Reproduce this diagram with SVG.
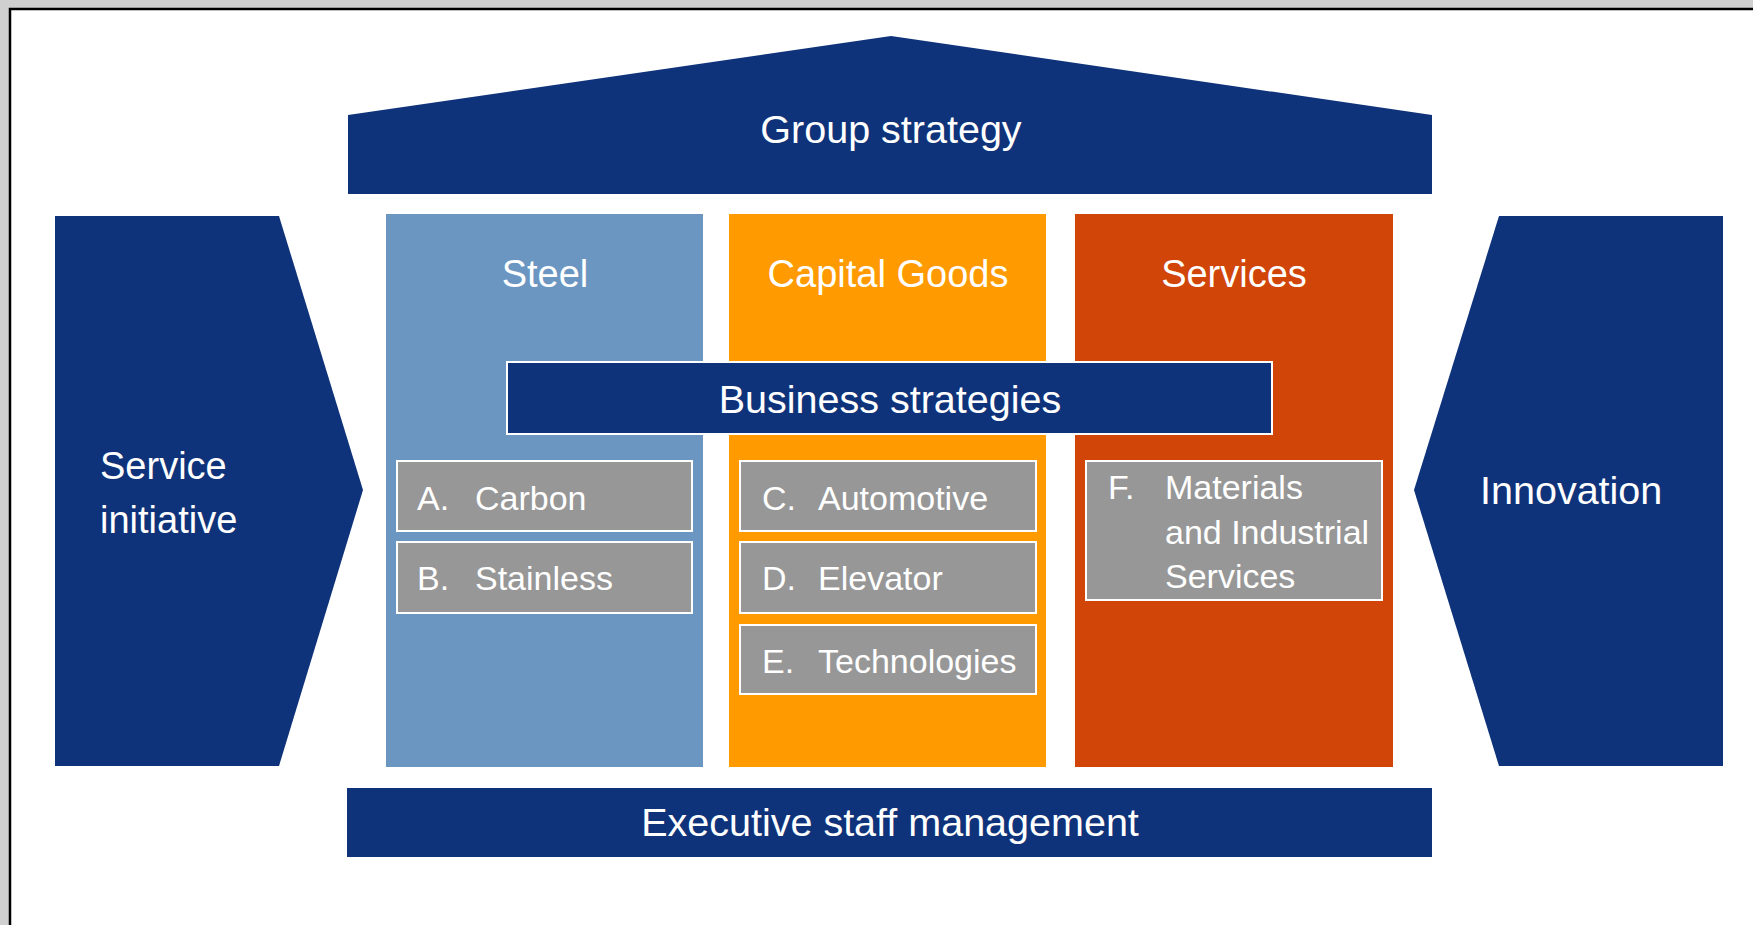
<svg xmlns="http://www.w3.org/2000/svg" width="1753" height="925" viewBox="0 0 1753 925">
<style>
.navy{fill:#0f337a}
.item{fill:#979797;stroke:#ffffff;stroke-width:2}
text{font-family:"Liberation Sans",Arial,sans-serif;fill:#ffffff}
.t{font-size:38px}
.b{font-size:39.5px}
.i{font-size:34px}
.mid{text-anchor:middle}
</style>
<rect x="0" y="0" width="1753" height="925" fill="#d0d0d0"/>
<rect x="10" y="9" width="1760" height="930" fill="#ffffff" stroke="#000000" stroke-width="2.5"/>
<g id="group-strategy">
<polygon class="navy" points="348,115 891,36 1432,115 1432,194 348,194"/>
<text class="b mid" x="891" y="143">Group strategy</text>
</g>
<g id="service-initiative">
<polygon class="navy" points="55,216 279,216 363,490 279,766 55,766"/>
<text class="t" x="100" y="479">Service</text>
<text class="t" x="100" y="533">initiative</text>
</g>
<g id="innovation">
<polygon class="navy" points="1499,216 1723,216 1723,766 1499,766 1414,490"/>
<text class="b" x="1480" y="504">Innovation</text>
</g>
<g id="steel">
<rect x="386" y="214" width="317" height="553" fill="#6c96c2"/>
<text class="t mid" x="545" y="287">Steel</text>
</g>
<g id="capital-goods">
<rect x="729" y="214" width="317" height="553" fill="#ff9a00"/>
<text class="t mid" x="888" y="287">Capital Goods</text>
</g>
<g id="services">
<rect x="1075" y="214" width="318" height="553" fill="#d14509"/>
<text class="t mid" x="1234" y="287">Services</text>
</g>
<g id="business-strategies">
<rect class="navy" x="507" y="362" width="765" height="72" stroke="#ffffff" stroke-width="2"/>
<text class="b mid" x="890" y="413">Business strategies</text>
</g>
<g id="carbon">
<rect class="item" x="397" y="461" width="295" height="70"/>
<text class="i" x="417" y="510">A.</text>
<text class="i" x="475" y="510">Carbon</text>
</g>
<g id="stainless">
<rect class="item" x="397" y="542" width="295" height="71"/>
<text class="i" x="417" y="590">B.</text>
<text class="i" x="475" y="590">Stainless</text>
</g>
<g id="automotive">
<rect class="item" x="740" y="461" width="296" height="70"/>
<text class="i" x="762" y="510">C.</text>
<text class="i" x="818" y="510">Automotive</text>
</g>
<g id="elevator">
<rect class="item" x="740" y="542" width="296" height="71"/>
<text class="i" x="762" y="590">D.</text>
<text class="i" x="818" y="590">Elevator</text>
</g>
<g id="technologies">
<rect class="item" x="740" y="625" width="296" height="69"/>
<text class="i" x="762" y="673">E.</text>
<text class="i" x="818" y="673">Technologies</text>
</g>
<g id="materials">
<rect class="item" x="1086" y="461" width="296" height="139"/>
<text class="i" x="1108" y="499">F.</text>
<text class="i" x="1165" y="499">Materials</text>
<text class="i" x="1165" y="544">and Industrial</text>
<text class="i" x="1165" y="588">Services</text>
</g>
<g id="executive-staff">
<rect class="navy" x="347" y="788" width="1085" height="69"/>
<text class="b mid" x="890" y="836">Executive staff management</text>
</g>
<g id="connectors"></g>
</svg>
